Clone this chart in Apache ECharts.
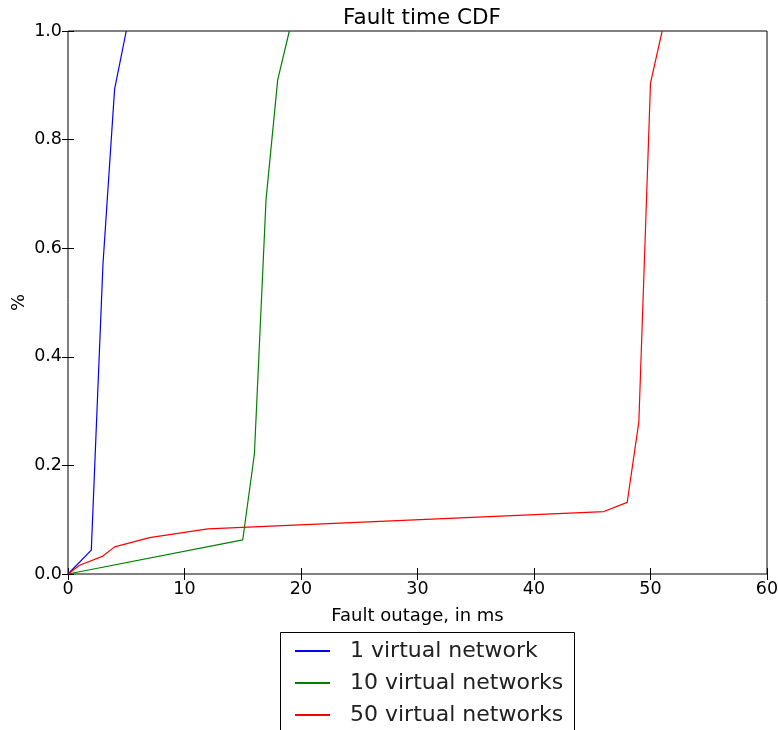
<!DOCTYPE html>
<html lang="en">
<head>
    <meta charset="UTF-8">
    <title>Fault time CDF</title>
    <script src="https://cdn.jsdelivr.net/npm/echarts@6/dist/echarts.min.js"></script>
    <style>
        body { margin: 0; background: #fff; }
        #chart { width: 778px; height: 730px; }
    </style>
</head>
<body>
<div id="chart"></div>
<script>
    // 读图估计的数据 [outage ms, cumulative fraction]
    var seriesNames = ['1 virtual network', '10 virtual networks', '50 virtual networks'];
    var seriesColors = ['#0000ff', '#008000', '#ff0000'];
    var oneNet = [[0, 0], [2, 0.044], [3, 0.57], [4, 0.893], [5, 1.0]];
    var tenNet = [[0, 0], [15, 0.063], [16, 0.221], [17, 0.69], [18, 0.91], [19, 1.0]];
    var fiftyNet = [[0, 0], [1, 0.016], [3, 0.033], [4, 0.05], [7, 0.067], [12, 0.083],
        [46, 0.115], [48, 0.132], [49, 0.28], [50, 0.904], [51, 1.0]];
    var xTicks = [0, 60, 10];   // min, max, interval
    var yTicks = [0, 1, 0.2];

    var font = 'DejaVu Sans';
    var chart = echarts.init(document.getElementById('chart'));

    function axis(pos, ticks, labels, name) {
        return {
            type: 'value',
            position: pos,
            min: ticks[0], max: ticks[1], interval: ticks[2],
            name: name || '',
            nameLocation: 'middle',
            nameGap: pos === 'left' ? 40 : 33,
            nameMoveOverlap: false,
            nameTextStyle: { color: '#000', fontFamily: font, fontSize: 18 },
            axisLine: { show: false },
            axisTick: { show: true, inside: true, length: 6, lineStyle: { color: '#000' } },
            splitLine: { show: false },
            axisLabel: {
                show: labels,
                color: '#000', fontFamily: font, fontSize: 17.5, margin: 6,
                formatter: function (v) {
                    return ticks[2] < 1 ? v.toFixed(1) : String(v);
                }
            }
        };
    }

    var data = [oneNet, tenNet, fiftyNet];
    chart.setOption({
        animation: false,
        backgroundColor: '#fff',
        title: {
            text: 'Fault time CDF',
            left: 417, top: 2, textAlign: 'center',
            textStyle: { color: '#000', fontFamily: font, fontSize: 21.5, fontWeight: 'normal' }
        },
        grid: {
            left: 68, right: 11, top: 31, bottom: 156,
            outerBoundsMode: 'none',
            show: true, borderColor: '#000', borderWidth: 1, backgroundColor: 'transparent'
        },
        xAxis: [axis('bottom', xTicks, true, 'Fault outage, in ms'), axis('top', xTicks, false)],
        yAxis: [axis('left', yTicks, true, '%'), axis('right', yTicks, false)],
        legend: {
            orient: 'vertical',
            left: 280, top: 640,
            padding: [0, 0, 0, 15],
            icon: 'rect',
            itemWidth: 35, itemHeight: 2, itemGap: 10,
            data: seriesNames,
            textStyle: { color: '#222', fontFamily: font, fontSize: 22, lineHeight: 22, padding: [0, 0, 0, 15] }
        },
        graphic: [{
            type: 'rect',
            shape: { x: 280.5, y: 632.5, width: 294, height: 110 },
            style: { fill: 'none', stroke: '#000', lineWidth: 1 },
            z: 100
        }],
        series: seriesNames.map(function (n, i) {
            return {
                name: n,
                type: 'line',
                data: data[i],
                symbol: 'none',
                color: seriesColors[i],
                lineStyle: { width: 1.2, color: seriesColors[i] }
            };
        })
    });
</script>
</body>
</html>
